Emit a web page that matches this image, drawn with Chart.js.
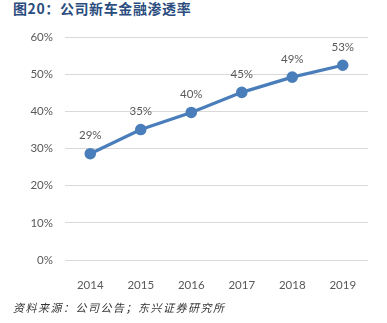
<!DOCTYPE html>
<html>
<head>
<meta charset="utf-8">
<script src="https://cdn.jsdelivr.net/npm/chart.js@4"></script>
<style>
  html, body { margin: 0; padding: 0; background: #fff; }
  #wrap { position: relative; width: 387px; height: 323px; overflow: hidden; }
  #title {
    position: absolute; left: 13px; top: -2px;
    font-family: "Noto Sans CJK SC", sans-serif; font-weight: bold;
    font-size: 14px; color: #2b4c7e; letter-spacing: 0.6px; white-space: nowrap;
  }
  #source {
    position: absolute; left: 13px; top: 299px;
    font-family: "Noto Sans CJK SC", sans-serif; font-style: italic;
    font-size: 11px; color: #333; letter-spacing: 1.5px; white-space: nowrap;
  }
  canvas { position: absolute; left: 0; top: 0; }
</style>
</head>
<body>
<div id="wrap">
  <div id="title">图20：公司新车金融渗透率</div>
  <canvas id="chart" width="387" height="323"></canvas>
  <div id="source">资料来源：公司公告；东兴证券研究所</div>
</div>
<script>
// chart data
const years = ["2014", "2015", "2016", "2017", "2018", "2019"];
const penetration = [28.6, 35.1, 39.7, 45.1, 49.2, 52.4];
const pctLabels = ["29%", "35%", "40%", "45%", "49%", "53%"];

// draws the value text above each point
const valueLabels = {
  id: "valueLabels",
  afterDatasetsDraw(chart) {
    const ctx = chart.ctx;
    const meta = chart.getDatasetMeta(0);
    ctx.save();
    ctx.font = "11.5px Lato, sans-serif";
    ctx.fillStyle = "#595959";
    ctx.textAlign = "center";
    ctx.textBaseline = "middle";
    meta.data.forEach((pt, i) => {
      ctx.fillText(pctLabels[i], pt.x, pt.y - 18);
    });
    ctx.restore();
  }
};

document.addEventListener("DOMContentLoaded", function () {
  const ctx = document.getElementById("chart").getContext("2d");

  new Chart(ctx, {
    type: "line",
    data: {
      labels: years,
      datasets: [
        {
          data: penetration,
          borderColor: "#4a7ebb",
          backgroundColor: "#4a7ebb",
          borderWidth: 3.2,
          pointRadius: 4.2,
          pointHoverRadius: 4.2,
          tension: 0
        }
      ]
    },
    options: {
      responsive: false,
      animation: false,
      layout: { padding: { top: 37, right: 19, bottom: 0, left: 0 } },
      plugins: {
        legend: { display: false },
        tooltip: { enabled: false }
      },
      scales: {
        x: {
          offset: true,
          grid: { display: false },
          border: { display: false },
          ticks: {
            color: "#595959",
            font: { family: "Lato, sans-serif", size: 11.5 },
            padding: 10,
            maxRotation: 0
          },
          afterFit(scale) { scale.height = 63; }
        },
        y: {
          min: 0,
          max: 60,
          grid: { color: "#d9d9d9", drawTicks: false, lineWidth: 1 },
          border: { display: false },
          ticks: {
            stepSize: 10,
            color: "#595959",
            font: { family: "Lato, sans-serif", size: 11.5 },
            padding: 12,
            callback: (v) => v + "%"
          },
          afterFit(scale) { scale.width = 65; }
        }
      }
    },
    plugins: [valueLabels]
  });
});
</script>
</body>
</html>
